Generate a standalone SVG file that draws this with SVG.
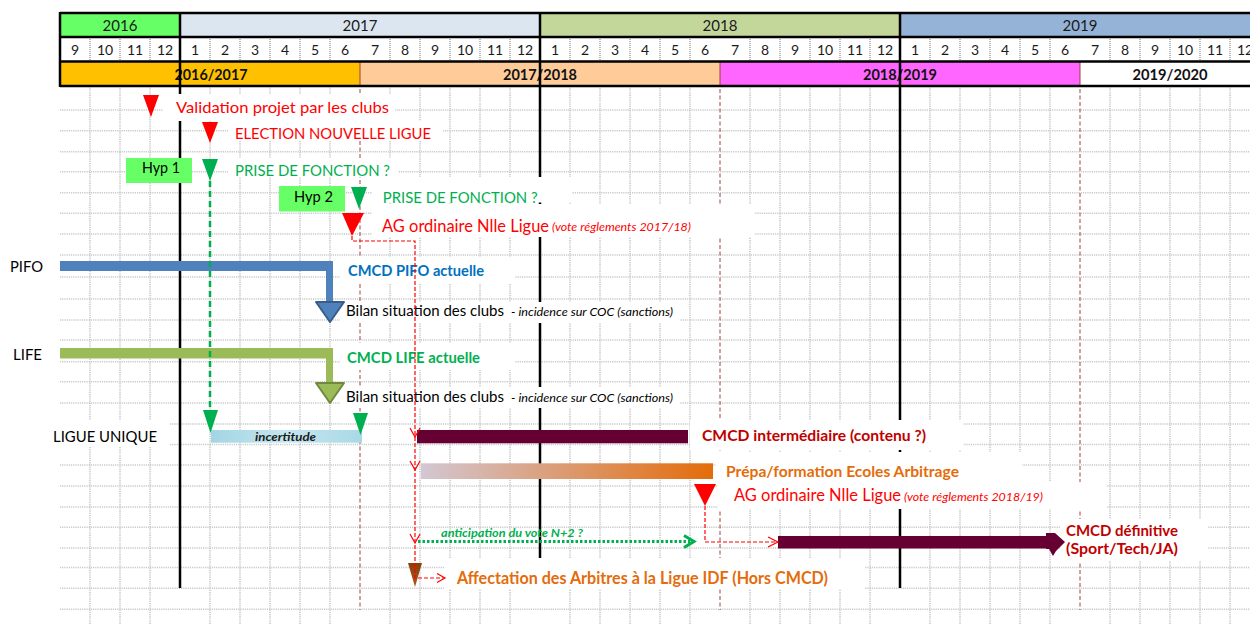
<svg xmlns="http://www.w3.org/2000/svg" width="1250" height="624" viewBox="0 0 1250 624">
<defs>
<style>
text{font-family:Lato,"Liberation Sans",sans-serif;}
.grid{stroke:#c9c9c9;stroke-width:1.6;stroke-dasharray:1.2 1;fill:none}
.hsep{stroke:#8a8a8a;stroke-width:1.2;stroke-dasharray:1 1;fill:none}
.blk{stroke:#000;stroke-width:2.5;fill:none}
.season{stroke:#a0403d;stroke-width:1;stroke-dasharray:4 2.5;fill:none}
.wb{fill:#fff}
.yr{font-size:15px;fill:#1a1a1a;text-anchor:middle}
.mo{font-size:14px;fill:#1a1a1a;text-anchor:middle}
.ss{font-size:15px;font-weight:bold;fill:#111;text-anchor:middle}
.red{fill:#ff0000}
.grn{fill:#00b050}
.lbl{font-size:16px}
.it{font-style:italic;font-size:11.5px}
.bi{font-style:italic;font-weight:bold}
.bold{font-weight:bold}
.rdash{stroke:#ff0000;stroke-width:1.2;stroke-dasharray:4 2;fill:none}
.rhead{stroke:#ff0000;stroke-width:1.2;fill:none}
.tri-r{fill:#ff0000}
.tri-g{fill:#00b050}
</style>
<linearGradient id="gInc" x1="0" y1="0" x2="1" y2="0">
<stop offset="0" stop-color="#a3d5e4"/><stop offset="0.5" stop-color="#c4e6ef"/><stop offset="1" stop-color="#a9d9e6"/>
</linearGradient>
<linearGradient id="gPrep" x1="0" y1="0" x2="1" y2="0">
<stop offset="0" stop-color="#d3c7d3"/><stop offset="1" stop-color="#e46c0a"/>
</linearGradient>
<linearGradient id="gBrown" x1="0" y1="0" x2="0" y2="1">
<stop offset="0" stop-color="#8a3f0a"/><stop offset="1" stop-color="#a85a1c"/>
</linearGradient>
</defs>
<rect width="1250" height="624" fill="#fff"/>

<g id="grid">
<path class="grid" d="M90,86V624M120,86V624M150,86V624M210,86V624M240,86V624M270,86V624M300,86V624M330,86V624M390,86V624M420,86V624M450,86V624M480,86V624M510,86V624M570,86V624M600,86V624M630,86V624M660,86V624M690,86V624M750,86V624M780,86V624M810,86V624M840,86V624M870,86V624M930,86V624M960,86V624M990,86V624M1020,86V624M1050,86V624M1110,86V624M1140,86V624M1170,86V624M1200,86V624M1230,86V624"/>
<path class="grid" d="M60,110H1250M60,130.7H1250M60,151.7H1250M60,171.7H1250M60,192.7H1250M60,213.3H1250M60,234H1250M60,255H1250M60,277H1250M60,299H1250M60,320H1250M60,340H1250M60,361.7H1250M60,381.7H1250M60,403H1250M60,424H1250M60,444.5H1250M60,465H1250M60,486H1250M60,507H1250M60,527.3H1250M60,548H1250M60,567.5H1250M60,588.3H1250M60,609.3H1250"/>
<path class="season" d="M360,37V610M720,37V610M1080,37V610"/>
<path class="blk" d="M180,86V588M540,86V588M900,86V588"/>
</g>

<g id="label-boxes">
<rect class="wb" x="163" y="94" width="232" height="27"/>
<rect class="wb" x="228" y="121" width="215" height="19"/>
<rect class="wb" x="228" y="158" width="170" height="19"/>
<rect class="wb" x="372" y="177" width="200" height="25.5"/>
<rect class="wb" x="372" y="204" width="383" height="33"/>
<rect class="wb" x="340" y="257" width="175" height="27"/>
<rect class="wb" x="340" y="302" width="340" height="21"/>
<rect class="wb" x="340" y="343" width="175" height="27"/>
<rect class="wb" x="340" y="387" width="340" height="21"/>
<rect class="wb" x="46" y="420" width="124" height="27"/>
<rect class="wb" x="690" y="420" width="273" height="30"/>
<rect class="wb" x="716" y="452" width="306" height="30"/>
<rect class="wb" x="718" y="482" width="389" height="27"/>
<rect class="wb" x="1060" y="519" width="148" height="42"/>
<rect class="wb" x="445" y="558" width="420" height="31"/>
</g>

<g id="header">
<rect x="60" y="13" width="120" height="24" fill="#66ff66"/>
<rect x="180" y="13" width="360" height="24" fill="#dce6f1"/>
<rect x="540" y="13" width="360" height="24" fill="#c4d79b"/>
<rect x="900" y="13" width="360" height="24" fill="#95b3d7"/>
<rect x="60" y="37" width="1200" height="24.5" fill="#fff"/>
<rect x="60" y="61.5" width="300" height="24.5" fill="#ffc000"/>
<rect x="360" y="61.5" width="360" height="24.5" fill="#ffcc99"/>
<rect x="720" y="61.5" width="360" height="24.5" fill="#ff66ff"/>
<rect x="1080" y="61.5" width="180" height="24.5" fill="#fff"/>
<path class="hsep" d="M90,37V61.5M120,37V61.5M150,37V61.5M210,37V61.5M240,37V61.5M270,37V61.5M300,37V61.5M330,37V61.5M390,37V61.5M420,37V61.5M450,37V61.5M480,37V61.5M510,37V61.5M570,37V61.5M600,37V61.5M630,37V61.5M660,37V61.5M690,37V61.5M750,37V61.5M780,37V61.5M810,37V61.5M840,37V61.5M870,37V61.5M930,37V61.5M960,37V61.5M990,37V61.5M1020,37V61.5M1050,37V61.5M1110,37V61.5M1140,37V61.5M1170,37V61.5M1200,37V61.5M1230,37V61.5"/>
<path class="season" style="stroke-dasharray:none" d="M360,61.5V86M720,61.5V86M1080,61.5V86"/>
<text class="yr" x="120" y="30.5">2016</text>
<text class="yr" x="360" y="30.5">2017</text>
<text class="yr" x="720" y="30.5">2018</text>
<text class="yr" x="1080" y="30.5">2019</text>
<g class="mo">
<text x="75" y="55">9</text><text x="105" y="55">10</text><text x="135" y="55">11</text><text x="165" y="55">12</text>
<text x="195" y="55">1</text><text x="225" y="55">2</text><text x="255" y="55">3</text><text x="285" y="55">4</text><text x="315" y="55">5</text><text x="345" y="55">6</text><text x="375" y="55">7</text><text x="405" y="55">8</text><text x="435" y="55">9</text><text x="465" y="55">10</text><text x="495" y="55">11</text><text x="525" y="55">12</text>
<text x="555" y="55">1</text><text x="585" y="55">2</text><text x="615" y="55">3</text><text x="645" y="55">4</text><text x="675" y="55">5</text><text x="705" y="55">6</text><text x="735" y="55">7</text><text x="765" y="55">8</text><text x="795" y="55">9</text><text x="825" y="55">10</text><text x="855" y="55">11</text><text x="885" y="55">12</text>
<text x="915" y="55">1</text><text x="945" y="55">2</text><text x="975" y="55">3</text><text x="1005" y="55">4</text><text x="1035" y="55">5</text><text x="1065" y="55">6</text><text x="1095" y="55">7</text><text x="1125" y="55">8</text><text x="1155" y="55">9</text><text x="1185" y="55">10</text><text x="1215" y="55">11</text><text x="1245" y="55">12</text>
</g>
<text class="ss" x="211" y="79.5" textLength="73" lengthAdjust="spacingAndGlyphs">2016/2017</text>
<text class="ss" x="540" y="79.5" textLength="74" lengthAdjust="spacingAndGlyphs">2017/2018</text>
<text class="ss" x="900" y="79.5" textLength="74" lengthAdjust="spacingAndGlyphs">2018/2019</text>
<text class="ss" x="1170" y="79.5" textLength="75" lengthAdjust="spacingAndGlyphs">2019/2020</text>
<path class="blk" d="M60,13H1250M60,37H1250M60,61.5H1250M60,86H1250M60,12V87M180,12V87M540,12V87M900,12V87"/>
</g>

<g id="row-labels">
<text x="10" y="272" font-size="16" fill="#000" textLength="33" lengthAdjust="spacingAndGlyphs">PIFO</text>
<text x="13" y="360" font-size="16" fill="#000" textLength="29" lengthAdjust="spacingAndGlyphs">LIFE</text>
<text x="53" y="441.7" font-size="16" fill="#000" textLength="104" lengthAdjust="spacingAndGlyphs">LIGUE UNIQUE</text>
</g>

<g id="node-validation">
<polygon class="tri-r" points="143,95 159,95 151,117"/>
<text class="red lbl" x="176" y="113" textLength="213" lengthAdjust="spacingAndGlyphs">Validation projet par les clubs</text>
</g>
<g id="node-election">
<polygon class="tri-r" points="202,122 218,122 210,143"/>
<text class="red lbl" x="235" y="139" textLength="196" lengthAdjust="spacingAndGlyphs">ELECTION NOUVELLE LIGUE</text>
</g>
<g id="node-hyp1">
<rect x="126" y="158" width="66" height="25" fill="#66ff66"/>
<text x="142" y="172.5" font-size="15.5" fill="#000" textLength="38" lengthAdjust="spacingAndGlyphs">Hyp 1</text>
<polygon class="tri-g" points="202,159 218,159 210,181"/>
<text class="grn lbl" x="235" y="176" textLength="155" lengthAdjust="spacingAndGlyphs">PRISE DE FONCTION ?</text>
</g>
<g id="node-hyp2">
<rect x="279" y="186" width="66" height="25.5" fill="#66ff66"/>
<text x="294" y="201.5" font-size="15.5" fill="#000" textLength="39" lengthAdjust="spacingAndGlyphs">Hyp 2</text>
<polygon class="tri-g" points="351,187 367,187 359,209"/>
<text class="grn lbl" x="382.7" y="203" textLength="155" lengthAdjust="spacingAndGlyphs">PRISE DE FONCTION ?</text>
</g>
<g id="node-ag1">
<polygon class="tri-r" points="342,213 364,213 352,236"/>
<text class="red" x="382" y="231.5" font-size="17" textLength="167" lengthAdjust="spacingAndGlyphs">AG ordinaire Nlle Ligue</text>
<text class="red it" x="552" y="231" textLength="139" lengthAdjust="spacingAndGlyphs">(vote réglements 2017/18)</text>
</g>

<g id="node-pifo">
<rect x="60" y="261" width="273" height="10" fill="#4f81bd"/>
<rect x="326" y="261" width="7" height="42" fill="#4f81bd"/>
<polygon points="316,302 344,302 330,322" fill="#4f81bd" stroke="#385d8a" stroke-width="2" stroke-linejoin="round"/>
<text class="bold" x="348" y="276" font-size="15" fill="#0070c0" textLength="136" lengthAdjust="spacingAndGlyphs">CMCD PIFO actuelle</text>
<text x="346" y="316" font-size="14.5" fill="#000" textLength="158" lengthAdjust="spacingAndGlyphs">Bilan situation des clubs</text>
<text class="it" x="511" y="316" font-size="11" fill="#000" textLength="162" lengthAdjust="spacingAndGlyphs">- incidence sur COC (sanctions)</text>
</g>
<g id="node-life">
<rect x="60" y="348" width="273" height="10.5" fill="#9bbb59"/>
<rect x="326" y="348" width="7" height="36" fill="#9bbb59"/>
<polygon points="316,383 344,383 330,403" fill="#9bbb59" stroke="#71893f" stroke-width="2" stroke-linejoin="round"/>
<text class="bold" x="347" y="362.5" font-size="15" fill="#00b050" textLength="133" lengthAdjust="spacingAndGlyphs">CMCD LIFE actuelle</text>
<text x="346" y="401.7" font-size="14.5" fill="#000" textLength="158" lengthAdjust="spacingAndGlyphs">Bilan situation des clubs</text>
<text class="it" x="511" y="401.7" font-size="11" fill="#000" textLength="162" lengthAdjust="spacingAndGlyphs">- incidence sur COC (sanctions)</text>
</g>

<g id="node-incertitude">
<rect x="211" y="430" width="151" height="12.7" fill="url(#gInc)"/>
<text class="bi" x="255" y="441" font-size="12" fill="#1a1a1a" textLength="61" lengthAdjust="spacingAndGlyphs">incertitude</text>
<polygon class="tri-g" points="203,410 218,410 210.5,433"/>
<polygon class="tri-g" points="353,413 368,413 360.5,435"/>
</g>
<g id="node-cmcd-inter">
<rect x="417" y="430" width="271" height="13.3" fill="#660033"/>
<text class="bold" x="702" y="440.5" font-size="15" fill="#c00000" textLength="224" lengthAdjust="spacingAndGlyphs">CMCD intermédiaire (contenu ?)</text>
</g>
<g id="node-prepa">
<rect x="421" y="463.3" width="292" height="15.7" fill="url(#gPrep)"/>
<text class="bold" x="726" y="476.5" font-size="14.5" fill="#e46c0a" textLength="233" lengthAdjust="spacingAndGlyphs">Prépa/formation Ecoles Arbitrage</text>
</g>
<g id="node-ag2">
<polygon class="tri-r" points="694,484 716,484 705,506"/>
<text class="red" x="734" y="500.5" font-size="17" textLength="167" lengthAdjust="spacingAndGlyphs">AG ordinaire Nlle Ligue</text>
<text class="red it" x="904" y="500.5" textLength="139" lengthAdjust="spacingAndGlyphs">(vote réglements 2018/19)</text>
</g>
<g id="node-cmcd-def">
<rect x="778" y="536" width="270" height="12.5" fill="#660033"/>
<polygon points="1046,533 1055,533 1065,542 1056,551 1053,556 1049,549 1046,549" fill="#660033"/>
<text class="bold" x="1066" y="535.7" font-size="15" fill="#c00000" textLength="112" lengthAdjust="spacingAndGlyphs">CMCD définitive</text>
<text class="bold" x="1066" y="554.3" font-size="15" fill="#c00000" textLength="112" lengthAdjust="spacingAndGlyphs">(Sport/Tech/JA)</text>
</g>
<g id="node-anticipation">
<text class="bi" x="441" y="537" font-size="11.5" fill="#00b050" textLength="142" lengthAdjust="spacingAndGlyphs">anticipation du vote N+2 ?</text>
</g>
<g id="node-affectation">
<polygon points="408,563 422,563 415,587" fill="url(#gBrown)"/>
<text class="bold" x="457" y="584" font-size="16.5" fill="#e46c0a" textLength="371" lengthAdjust="spacingAndGlyphs">Affectation des Arbitres à la Ligue IDF (Hors CMCD)</text>
</g>

<g id="connectors">
<path d="M210,181V410" stroke="#00b050" stroke-width="2.5" stroke-dasharray="6 4" fill="none"/>
<path class="rdash" d="M352,236V241H415V578H444"/>
<path class="rhead" d="M410,428L415,437L420,428"/>
<path class="rhead" d="M410,461L415,470L420,461"/>
<path class="rhead" d="M410,534L415,543L420,534"/>
<path class="rhead" d="M437,573.5L445,578L437,582.5"/>
<path d="M418,541.5H690" stroke="#00b050" stroke-width="3" stroke-dasharray="2.5 2" fill="none"/>
<path d="M684,535.5L694,541.5L684,547.5" stroke="#00b050" stroke-width="3" fill="none"/>
<path class="rdash" d="M705,506V542H777"/>
<path class="rhead" d="M768,537L778,542L768,547"/>
</g>
</svg>
